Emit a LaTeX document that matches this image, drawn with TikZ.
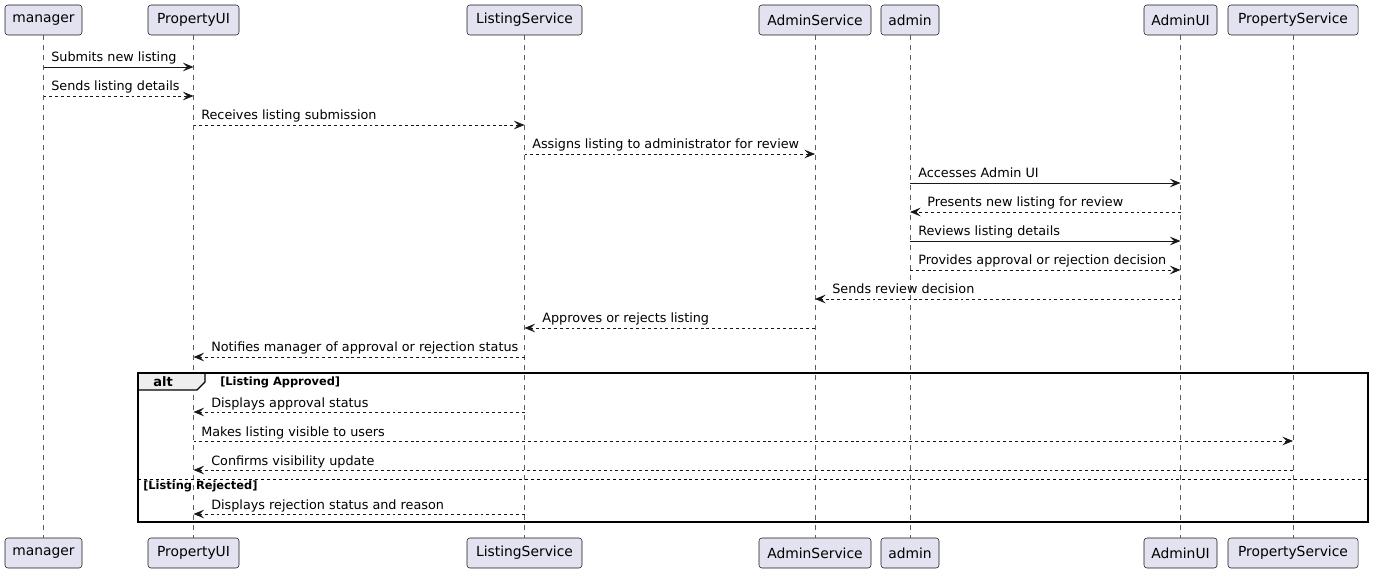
\documentclass[tikz,border=0pt]{standalone}
\usepackage{fontspec}
\setmainfont{DejaVu Sans}
\usetikzlibrary{arrows.meta}
\definecolor{partfill}{HTML}{E2E2F0}
\definecolor{partline}{HTML}{181818}
\definecolor{tabfill}{HTML}{EEEEEE}
\begin{document}
\begin{tikzpicture}[x=0.75pt,y=-0.75pt,
  part/.style={draw=partline,fill=partfill,rounded corners=2.2pt,line width=0.4pt,
    minimum height=22.5pt,inner sep=0pt,font=\fontsize{10.4pt}{12pt}\selectfont},
  life/.style={draw=partline!70,line width=0.45pt,dash pattern=on 3.75pt off 3.75pt},
  msgline/.style={draw=partline,line width=0.65pt,-{Stealth[length=8pt,width=6.5pt,inset=3.2pt]}},
  dashmsg/.style={msgline,dash pattern=on 2.2pt off 2.2pt},
  lbl/.style={anchor=base west,inner sep=0pt,font=\fontsize{9.6pt}{11pt}\selectfont},
  guard/.style={anchor=base west,inner sep=0pt,font=\bfseries\fontsize{8.55pt}{10pt}\selectfont}]
\useasboundingbox (0,0) rectangle (1374,573);
% participants top
\node[part,minimum width=57.75pt] (m) at (43.5,20) {manager};
\node[part,minimum width=68.25pt] (pu) at (193.5,20) {PropertyUI};
\node[part,minimum width=86.25pt] (ls) at (524.5,20) {ListingService};
\node[part,minimum width=84pt] (as) at (815,20) {AdminService};
\node[part,minimum width=43.5pt] (ad) at (910,20) {admin};
\node[part,minimum width=54.75pt] (au) at (1180.5,20) {AdminUI};
\node[part,minimum width=97.5pt] (ps) at (1293,20) {PropertyService};
% participants bottom
\node[part,minimum width=57.75pt] (m2) at (43.5,553) {manager};
\node[part,minimum width=68.25pt] (pu2) at (193.5,553) {PropertyUI};
\node[part,minimum width=86.25pt] (ls2) at (524.5,553) {ListingService};
\node[part,minimum width=84pt] (as2) at (815,553) {AdminService};
\node[part,minimum width=43.5pt] (ad2) at (910,553) {admin};
\node[part,minimum width=54.75pt] (au2) at (1180.5,553) {AdminUI};
\node[part,minimum width=97.5pt] (ps2) at (1293,553) {PropertyService};
% lifelines
\foreach \a/\b in {m/m2,pu/pu2,ls/ls2,as/as2,ad/ad2,au/au2,ps/ps2}
  \draw[life] (\a.south) -- (\b.north);
% alt frame
\draw[fill=tabfill,draw=black,line width=0.9pt] (138,373) -- (205,373) -- (205,382) -- (197,390) -- (138,390) -- cycle;
\node[font=\bfseries\fontsize{9.75pt}{11pt}\selectfont,inner sep=0pt] (altl) at (163,382) {alt};
\node[guard] (g1) at (220,386) {[Listing Approved]};
\draw[line width=0.5pt,dash pattern=on 2.2pt off 2.2pt] (138,479) -- (1368,479);
\node[guard] (g2) at (143,489) {[Listing Rejected]};
\draw[line width=1.1pt] (138,373) rectangle (1368,522);
% messages
\draw[msgline] (m |- 0,67) -- (pu |- 0,67);
\node[lbl] (t1) at (51,62) {Submits new listing};
\draw[dashmsg] (m |- 0,96) -- (pu |- 0,96);
\node[lbl] (t2) at (51,91) {Sends listing details};
\draw[dashmsg] (pu |- 0,125) -- (ls |- 0,125);
\node[lbl] (t3) at (201,120) {Receives listing submission};
\draw[dashmsg] (ls |- 0,154) -- (as |- 0,154);
\node[lbl] (t4) at (532,149) {Assigns listing to administrator for review};
\draw[msgline] (ad |- 0,183) -- (au |- 0,183);
\node[lbl] (t5) at (918,178) {Accesses Admin UI};
\draw[dashmsg] (au |- 0,212) -- (ad |- 0,212);
\node[lbl] (t6) at (927,207) {Presents new listing for review};
\draw[msgline] (ad |- 0,241) -- (au |- 0,241);
\node[lbl] (t7) at (918,236) {Reviews listing details};
\draw[dashmsg] (ad |- 0,270) -- (au |- 0,270);
\node[lbl] (t8) at (918,265) {Provides approval or rejection decision};
\draw[dashmsg] (au |- 0,299) -- (as |- 0,299);
\node[lbl] (t9) at (832,294) {Sends review decision};
\draw[dashmsg] (as |- 0,328) -- (ls |- 0,328);
\node[lbl] (t10) at (542,323) {Approves or rejects listing};
\draw[dashmsg] (ls |- 0,357) -- (pu |- 0,357);
\node[lbl] (t11) at (211,352) {Notifies manager of approval or rejection status};
\draw[dashmsg] (ls |- 0,412) -- (pu |- 0,412);
\node[lbl] (t12) at (211,407) {Displays approval status};
\draw[dashmsg] (pu |- 0,441) -- (ps |- 0,441);
\node[lbl] (t13) at (201,436) {Makes listing visible to users};
\draw[dashmsg] (ps |- 0,470) -- (pu |- 0,470);
\node[lbl] (t14) at (211,465) {Confirms visibility update};
\draw[dashmsg] (ls |- 0,514) -- (pu |- 0,514);
\node[lbl] (t15) at (211,509) {Displays rejection status and reason};
\end{tikzpicture}
\end{document}
